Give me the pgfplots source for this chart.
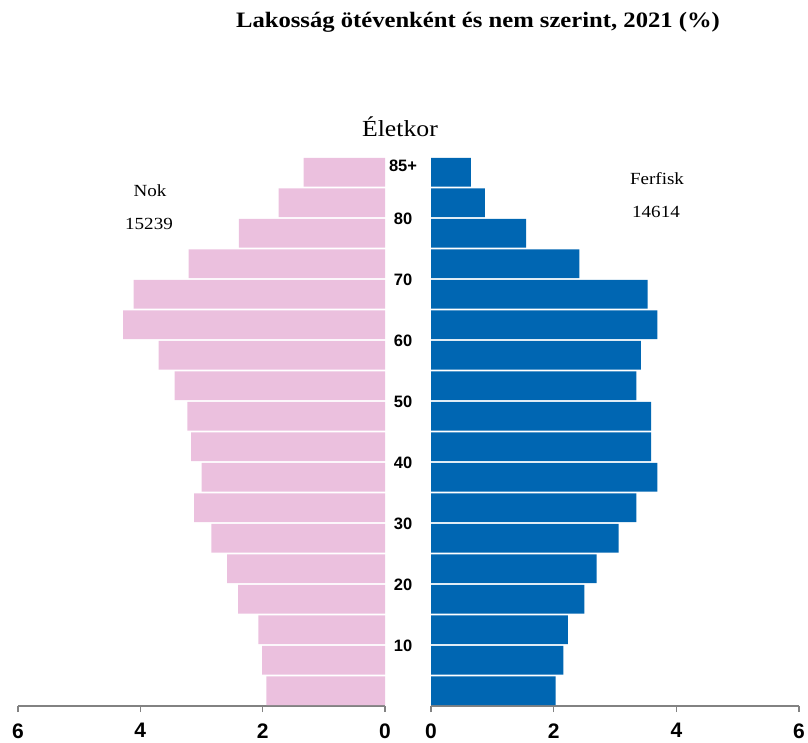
\documentclass[border=0pt]{standalone}
\usepackage{fontspec}
\setmainfont{Liberation Serif}
\newfontfamily\lsans{Liberation Sans}
\newfontfamily\wideserif[FakeStretch=1.12]{Liberation Serif}
\usepackage{pgfplots}
\usepackage{pgfplotstable}
\pgfplotsset{compat=1.18}
\definecolor{pinkbar}{RGB}{235,192,222}
\definecolor{bluebar}{RGB}{0,102,178}
\definecolor{axgray}{RGB}{130,130,130}

% women given as negative values (plotted to the left), men positive
\pgfplotstableread{
age f m
2.5 -1.94 2.03
7.5 -2.01 2.16
12.5 -2.07 2.23
17.5 -2.40 2.50
22.5 -2.58 2.70
27.5 -2.84 3.06
32.5 -3.12 3.35
37.5 -3.00 3.69
42.5 -3.17 3.59
47.5 -3.23 3.59
52.5 -3.44 3.35
57.5 -3.70 3.42
62.5 -4.28 3.69
67.5 -4.11 3.53
72.5 -3.21 2.42
77.5 -2.39 1.55
82.5 -1.74 0.88
87.5 -1.33 0.65
}\pyr

\pgfplotsset{
  pyr/.style={
    scale only axis,
    height=549pt,
    ymin=0, ymax=90,
    axis x line*=bottom,
    axis y line*=left,
    x axis line style={-, axgray, line width=1.3pt},
    y axis line style={draw=none},
    xtick style={axgray, line width=1.3pt},
    ytick style={draw=none},
    tick align=outside,
    major tick length=6pt,
    /pgf/number format/assume math mode=true,
    xticklabel style={font=\lsans\bfseries\fontsize{21}{21}\selectfont, text=black, yshift=-8pt},
    clip=false,
  }
}

\begin{document}
\begin{tikzpicture}[x=1pt,y=1pt]
\useasboundingbox (0pt,0pt) rectangle (808pt,-743pt);

% Women (left)
\begin{axis}[pyr, width=367pt, xmin=-6, xmax=0, anchor=south west, at={(18pt,-706pt)},
  xtick={-6,-4,-2,0}, xticklabels={6,4,2,0}, ytick=\empty]
\addplot[xbar, bar width=4.7, bar shift=0pt, fill=pinkbar, draw=none] table[x=f, y=age] {\pyr};
\end{axis}

% Men (right)
\begin{axis}[pyr, width=368pt, xmin=0, xmax=6, anchor=south west, at={(431pt,-706pt)},
  xtick={0,2,4,6},
  ytick={10,20,30,40,50,60,70,80,88.7},
  yticklabels={10,20,30,40,50,60,70,80,85+},
  yticklabel style={font=\lsans\bfseries\fontsize{16.5}{16.5}\selectfont, anchor=center, xshift=-22pt, yshift=-1pt, text=black}]
\addplot[xbar, bar width=4.7, bar shift=0pt, fill=bluebar, draw=none] table[x=m, y=age] {\pyr};
\end{axis}

\node[anchor=base, font=\wideserif\bfseries\fontsize{22}{26}\selectfont] at (478pt,-28pt) {Lakosság ötévenként és nem szerint, 2021 (\%)};
\node[anchor=base, font=\wideserif\fontsize{23}{27}\selectfont] at (400pt,-137pt) {Életkor};
\node[anchor=base, font=\wideserif\fontsize{17}{19}\selectfont] at (150pt,-197pt) {Nok};
\node[anchor=base, font=\wideserif\fontsize{17}{19}\selectfont] at (149pt,-230pt) {15239};
\node[anchor=base, font=\wideserif\fontsize{17}{19}\selectfont] at (657pt,-185pt) {Ferfisk};
\node[anchor=base, font=\wideserif\fontsize{17}{19}\selectfont] at (656pt,-218pt) {14614};
\end{tikzpicture}
\end{document}
